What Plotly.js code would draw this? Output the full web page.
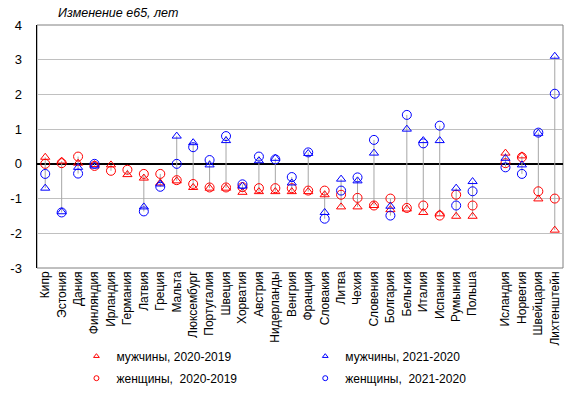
<!DOCTYPE html>
<html>
<head>
<meta charset="utf-8">
<script src="https://cdn.plot.ly/plotly-3.0.1.min.js"></script>
<style>html,body{margin:0;padding:0;background:#fff;}#chart{width:578px;height:395px;}</style>
</head>
<body>
<div id="chart"></div>
<script>
var categories = ["Кипр","Эстония","Дания","Финляндия","Ирландия","Германия","Латвия","Греция","Мальта","Люксембург","Португалия","Швеция","Хорватия","Австрия","Нидерланды","Венгрия","Франция","Словакия","Литва","Чехия","Словения","Болгария","Бельгия","Италия","Испания","Румыния","Польша","","Исландия","Норвегия","Швейцария","Лихтенштейн"];

var men2020 = [0.19,0.08,0.02,-0.02,-0.03,-0.31,-0.41,-0.55,-0.49,-0.68,-0.7,-0.7,-0.82,-0.8,-0.8,-0.8,-0.8,-0.89,-1.24,-1.24,-1.2,-1.32,-1.3,-1.4,-1.44,-1.51,-1.51,null,0.31,0.23,-1.01,-1.91];
var women2020 = [0.0,0.02,0.21,-0.06,-0.2,-0.17,-0.29,-0.29,-0.47,-0.58,-0.68,-0.68,-0.67,-0.7,-0.7,-0.7,-0.77,-0.77,-0.89,-0.98,-1.2,-1.0,-1.27,-1.2,-1.49,-0.89,-1.2,null,0.02,0.19,-0.79,-1.0];
var men2021 = [-0.7,-1.38,-0.1,-0.06,null,null,-1.24,-0.58,0.8,0.61,-0.03,0.67,-0.64,0.09,0.16,-0.55,0.3,-1.4,-0.44,-0.49,0.31,-1.22,1.0,0.67,0.67,-0.7,-0.51,null,0.16,-0.03,0.88,3.1];
var women2021 = [-0.29,-1.4,-0.28,0.0,null,null,-1.37,-0.66,0.0,0.48,0.11,0.8,-0.59,0.21,0.13,-0.38,0.33,-1.58,-0.77,-0.39,0.69,-1.49,1.41,0.59,1.1,-1.2,-0.79,null,-0.1,-0.29,0.9,2.02];
var yTicks = [-3,-2,-1,0,1,2,3,4];
var yTickText = ["-3","-2","-1","0","1","2","3","4"];

var xs = categories.map(function(c,i){return i;});
var tickIdx = xs.filter(function(i){return categories[i] !== "";});

var hx = [], hy = [];
xs.forEach(function(i){
  var v = [men2020[i],women2020[i],men2021[i],women2021[i]].filter(function(a){return a!==null;});
  if (v.length) {
    hx.push(i,i,null);
    hy.push(Math.min.apply(null,v),Math.max.apply(null,v),null);
  }
});

var RED = "#ff0000", BLUE = "#0000ff";
function mk(sym, col, size){ return {symbol: sym, size: size, color: col, line: {color: col, width: 1}}; }

var traces = [
  {x: hx, y: hy, mode: "lines", line: {color: "#a6a6a6", width: 1}, showlegend: false, hoverinfo: "skip"},
  {x: xs, y: men2020, mode: "markers", marker: mk("triangle-up-open", RED, 8), showlegend: false},
  {x: xs, y: women2020, mode: "markers", marker: mk("circle-open", RED, 9), showlegend: false},
  {x: xs, y: men2021, mode: "markers", marker: mk("triangle-up-open", BLUE, 8), showlegend: false},
  {x: xs, y: women2021, mode: "markers", marker: mk("circle-open", BLUE, 9), showlegend: false},
  {x: [null], y: [null], mode: "markers", name: "мужчины, 2020-2019", marker: mk("triangle-up-open", RED, 5), legend: "legend", legendgroup: "a"},
  {x: [null], y: [null], mode: "markers", name: "женщины,  2020-2019", marker: mk("circle-open", RED, 5), legend: "legend", legendgroup: "b"},
  {x: [null], y: [null], mode: "markers", name: "мужчины, 2021-2020", marker: mk("triangle-up-open", BLUE, 5), legend: "legend2", legendgroup: "c"},
  {x: [null], y: [null], mode: "markers", name: "женщины,  2021-2020", marker: mk("circle-open", BLUE, 5), legend: "legend2", legendgroup: "d"}
];

var legFont = {family: "Liberation Sans, Arial, sans-serif", size: 12, color: "#000"};
var layout = {
  width: 578, height: 395,
  margin: {l: 37, r: 15, t: 25, b: 127, pad: 0},
  paper_bgcolor: "#fff", plot_bgcolor: "#fff",
  font: {family: "Liberation Sans, Arial, sans-serif", color: "#000"},
  title: {text: "<i>Изменение е65, лет</i>", font: {size: 12.5, color: "#000"}, x: 0.04, xref: "paper", xanchor: "left", y: 0.967, yref: "container", yanchor: "middle"},
  xaxis: {range: [-0.5, 31.5], tickmode: "array", tickvals: tickIdx, ticktext: tickIdx.map(function(i){return categories[i];}),
          tickangle: -90, tickfont: {size: 12, color: "#000"}, showgrid: false, zeroline: false, showline: false, ticks: "", automargin: false, fixedrange: true},
  yaxis: {range: [-3, 4], tickmode: "array", tickvals: yTicks, ticktext: yTickText, showgrid: true, gridcolor: "#c0c0c0", gridwidth: 1,
          zeroline: true, zerolinecolor: "#000", zerolinewidth: 1.5, showline: true, linecolor: "#000", linewidth: 1.5,
          ticks: "", tickfont: {size: 13, color: "#000"}, ticklabelstandoff: 11, automargin: false, fixedrange: true},
  shapes: [{type: "rect", xref: "paper", yref: "paper", x0: 0, x1: 1, y0: 0, y1: 1, line: {color: "#808080", width: 1}, layer: "below"}],
  legend: {x: 0.075, xref: "paper", y: 0.135, yref: "container", xanchor: "left", yanchor: "top", orientation: "v", font: legFont, tracegroupgap: 3, bgcolor: "rgba(0,0,0,0)"},
  legend2: {x: 0.51, xref: "paper", y: 0.135, yref: "container", xanchor: "left", yanchor: "top", orientation: "v", font: legFont, tracegroupgap: 3, bgcolor: "rgba(0,0,0,0)"},
  showlegend: true
};

Plotly.newPlot("chart", traces, layout, {displayModeBar: false, staticPlot: true});
</script>
</body>
</html>
